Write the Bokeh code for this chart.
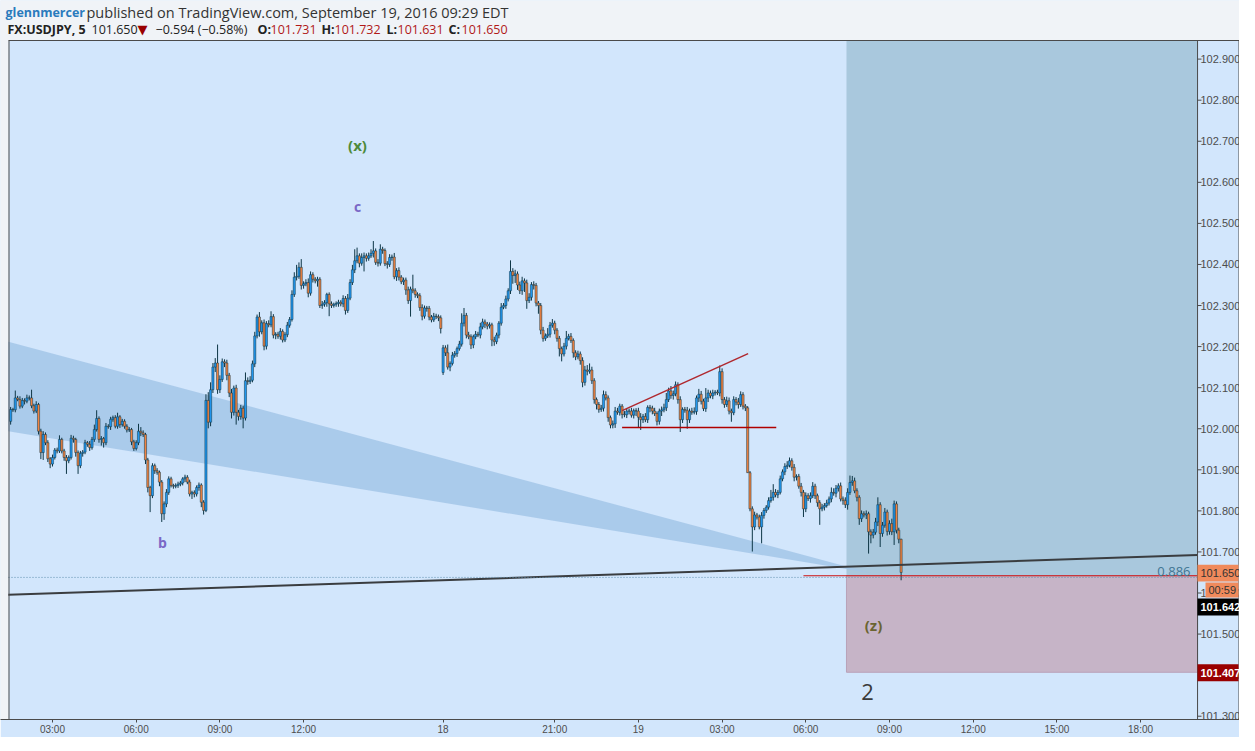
import numpy as np
from bokeh.plotting import figure
from bokeh.models import Range1d, FixedTicker, Label, ColumnDataSource
from bokeh.embed import file_html
from bokeh.resources import INLINE
from bokeh.core.properties import value

# ---------------- data (5-minute USDJPY bars, index 0 = Fri 16 Sep 00:00 EDT) ----------------
FIRST_BAR = 18            # Fri 01:30
# closes, in thousandths of a yen above 101.000
fri_close = [
    1047, 1046, 1075, 1071, 1055, 1069, 1067, 1075, 1075, 1056,
    1043, 1059, 994, 942, 986, 966, 927, 914, 930, 948,
    946, 974, 946, 930, 922, 930, 977, 974, 942, 910,
    940, 943, 966, 962, 954, 974, 998, 1025, 974, 976,
    966, 1006, 1005, 1023, 1027, 1006, 1029, 1010, 1018, 1006,
    997, 998, 968, 952, 966, 994, 990, 986, 924, 857,
    837, 910, 898, 894, 870, 793, 817, 845, 878, 862,
    860, 862, 865, 868, 878, 882, 870, 841, 845, 841,
    857, 863, 821, 801,
    1069, 1016, 1095, 1150, 1160, 1095, 1120, 1163, 1160, 1130,
    1087, 1040, 1099, 1040, 1030, 1050, 1026, 1117, 1115, 1118,
    1158, 1226, 1272, 1236, 1258, 1201, 1256, 1253, 1273, 1228,
    1230, 1225, 1237, 1216, 1229, 1252, 1266, 1327, 1369, 1371,
    1393, 1349, 1353, 1356, 1330, 1375, 1364, 1360, 1364, 1300,
    1303, 1307, 1327, 1304, 1300, 1303, 1305, 1308, 1304, 1317,
    1288, 1318, 1356, 1387, 1409, 1421, 1403, 1417, 1421, 1415,
    1421, 1427, 1433, 1405, 1403, 1437, 1434, 1402, 1400, 1417,
    1418, 1370, 1385, 1369, 1358, 1362, 1338, 1312, 1340, 1336,
    1327, 1324, 1295, 1274, 1294, 1293, 1272, 1265, 1274, 1273,
    1270, 1244,
]
mon_close = [
    1197, 1185, 1150, 1159, 1179, 1183, 1195, 1206, 1257, 1276,
    1228, 1224, 1204, 1224, 1230, 1228, 1248, 1260, 1255, 1250,
    1253, 1216, 1212, 1228, 1257, 1296, 1300, 1316, 1336, 1383,
    1373, 1377, 1350, 1336, 1360, 1355, 1312, 1320, 1351, 1349,
    1306, 1300, 1240, 1220, 1226, 1230, 1252, 1257, 1240, 1220,
    1195, 1182, 1201, 1220, 1225, 1215, 1185, 1175, 1182, 1166,
    1113, 1143, 1140, 1143, 1117, 1071, 1059, 1047, 1050, 1083,
    1075, 1027, 1009, 1012, 1043, 1040, 1055, 1035, 1034, 1043,
    1043, 1033, 1044, 1043, 1028, 1022, 1030, 1022, 1052, 1050,
    1043, 1037, 1018, 1043, 1046, 1051, 1071, 1092, 1081, 1085,
    1107, 1071, 1022, 1047, 1045, 1022, 1043, 1040, 1042, 1075,
    1084, 1067, 1049, 1075, 1087, 1080, 1087, 1089, 1087, 1139,
    1071, 1059, 1068, 1043, 1039, 1071, 1065, 1059, 1083, 1055,
    1051, 893, 805, 761, 790, 785, 761, 789, 801, 809,
    825, 833, 845, 839, 845, 878, 895, 908, 911, 922,
    906, 882, 884, 860, 845, 805, 837, 830, 837, 860,
    837, 820, 805, 809, 813, 819, 829, 845, 843, 855,
    861, 829, 825, 815, 845, 869, 873, 849, 833, 781,
    793, 790, 793, 749, 741, 748, 773, 815, 745, 765,
    797, 750, 769, 749, 817, 753, 731, 650,
]
# upper / lower shadows, thousandths of a yen beyond the body
fri_wick_up = [
    6, 4, 18, 5, 8, 6, 5, 8, 6, 20, 5, 8, 4, 6, 8, 5, 6, 4, 7, 5,
    6, 10, 4, 5, 6, 5, 8, 6, 4, 5, 6, 5, 7, 4, 8, 6, 12, 20, 5, 6,
    4, 8, 5, 6, 5, 6, 10, 4, 6, 5, 5, 6, 4, 5, 6, 18, 10, 6, 4, 5,
    4, 6, 5, 6, 4, 5, 6, 8, 6, 5, 4, 5, 6, 5, 4, 6, 5, 6, 4, 5,
    5, 6, 4, 5, 15, 20, 18, 10, 12, 45,
    10, 8, 6, 8, 6, 10, 6, 8, 6, 8, 6, 20, 8, 10, 8, 10, 6, 12, 6, 8,
    6, 8, 13, 6, 5, 6, 8, 5, 6, 8, 6, 10, 12, 28, 12, 20, 6, 8, 10, 8,
    6, 5, 6, 5, 8, 6, 4, 5, 6, 4, 5, 6, 5, 8, 6, 10, 8, 12, 28, 20,
    6, 10, 8, 6, 8, 10, 24, 6, 8, 12, 6, 5, 6, 8, 6, 10, 6, 8, 5, 6,
    6, 8, 6, 35, 6, 5, 6, 8, 6, 5, 6, 5, 8, 6, 5, 6,
]
fri_wick_dn = [
    8, 5, 6, 4, 6, 5, 8, 5, 6, 6, 6, 5, 8, 16, 18, 6, 8, 10, 6, 5,
    6, 5, 6, 8, 32, 6, 5, 8, 10, 20, 6, 8, 5, 6, 8, 5, 6, 5, 8, 15,
    12, 6, 5, 8, 6, 5, 6, 8, 5, 6, 6, 5, 8, 6, 5, 6, 8, 6, 10, 12,
    40, 6, 8, 6, 10, 20, 15, 8, 6, 5, 6, 5, 6, 5, 6, 8, 5, 6, 12, 8,
    6, 8, 12, 10, 4, 15, 10, 8, 12, 10,
    8, 6, 10, 12, 10, 15, 8, 30, 10, 8, 25, 6, 8, 6, 5, 8, 6, 12, 6, 10,
    8, 6, 6, 8, 10, 6, 8, 6, 5, 6, 6, 5, 6, 8, 6, 10, 8, 6, 10, 6,
    8, 6, 14, 6, 8, 6, 10, 30, 6, 5, 6, 8, 6, 8, 10, 6, 5, 6, 8, 6,
    10, 6, 34, 8, 6, 5, 10, 6, 8, 6, 8, 6, 10, 6, 8, 6, 10, 8, 6, 8,
    12, 8, 39, 6, 8, 6, 8, 10, 6, 8, 8, 6, 5, 6, 8, 12,
]
mon_wick_up = [
    7, 6, 20, 5, 8, 6, 5, 8, 24, 18, 6, 8, 6, 5, 8, 6, 10, 8, 6, 5,
    6, 5, 8, 6, 5, 10, 6, 8, 6, 27, 8, 10, 6, 8, 10, 6, 8, 10, 6, 8,
    6, 5, 6, 8, 6, 15, 8, 10, 6, 5, 6, 5, 8, 18, 6, 8, 5, 6, 8, 6,
    8, 10, 12, 16, 8, 6, 5, 6, 8, 10, 8, 6, 5, 8, 10, 8, 6, 5, 8, 6,
    6, 8, 5, 6, 8, 10, 6, 8, 5, 6, 6, 8, 5, 6, 8, 10, 16, 8, 12, 8,
    8, 6, 8, 5, 6, 8, 6, 8, 10, 6, 13, 8, 6, 24, 8, 6, 8, 5, 6, 15,
    8, 6, 10, 8, 6, 8, 6, 10, 8, 6, 5, 4, 4, 6, 8, 5, 6, 8, 6, 5,
    8, 18, 20, 8, 6, 8, 6, 8, 10, 8, 6, 8, 5, 6, 8, 6, 8, 6, 8, 10,
    6, 5, 6, 8, 6, 8, 6, 12, 10, 8, 6, 8, 6, 8, 10, 17, 12, 8, 6, 5,
    8, 6, 8, 5, 6, 8, 10, 18, 6, 8, 10, 6, 8, 12, 8, 6, 6, 1,
]
mon_wick_dn = [
    6, 8, 6, 10, 5, 6, 8, 5, 6, 8, 8, 6, 10, 8, 6, 5, 8, 6, 10, 8,
    6, 15, 10, 6, 8, 6, 5, 8, 6, 8, 20, 18, 12, 8, 10, 22, 20, 6, 8, 10,
    8, 20, 10, 8, 6, 5, 8, 6, 10, 8, 19, 18, 6, 8, 5, 6, 12, 8, 6, 10,
    12, 8, 10, 6, 8, 10, 12, 8, 6, 8, 6, 10, 8, 8, 10, 6, 8, 10, 6, 8,
    8, 6, 8, 12, 25, 25, 8, 6, 8, 10, 8, 6, 10, 8, 12, 6, 8, 6, 8, 10,
    6, 10, 30, 8, 6, 22, 8, 6, 5, 8, 10, 8, 6, 8, 10, 6, 8, 6, 5, 8,
    10, 8, 6, 8, 22, 6, 8, 10, 6, 8, 8, 0, 6, 60, 8, 6, 6, 40, 8, 6,
    6, 5, 8, 6, 8, 5, 6, 8, 6, 5, 8, 10, 8, 6, 10, 20, 8, 6, 10, 6,
    8, 10, 39, 6, 8, 5, 6, 8, 6, 10, 8, 6, 10, 8, 12, 6, 8, 6, 10, 15,
    8, 6, 10, 53, 20, 8, 6, 10, 33, 8, 6, 10, 8, 8, 32, 8, 10, 19,
]
first_open = 102.018
sunday_open = 102.137

time_ticks = [36, 72, 108, 144, 204, 252, 288, 324, 360, 396, 432, 468, 504]
time_labels = ["03:00", "06:00", "09:00", "12:00", "18", "21:00", "19",
               "03:00", "06:00", "09:00", "12:00", "15:00", "18:00"]
price_ticks = [101.3, 101.4, 101.5, 101.6, 101.7, 101.8, 101.9, 102.0,
               102.1, 102.2, 102.3, 102.4, 102.5, 102.6, 102.7, 102.8, 102.9]

# drawings (bar index, price)
wedge_x = [17.0, 17.0, 387.8]
wedge_y = [102.212, 101.994, 101.649]
ray_x = [17.0, 528.5]
ray_y = [101.5957, 101.6925]
red_trend_x = [281.0, 335.2]
red_trend_y = [102.044, 102.183]
support_x = [281.0, 347.3]
support_y = [102.003, 102.003]
position_left = 377.5
entry_price = 101.642
stop_price = 101.407
fib_left = 359.0
price_line = 101.638
badge_prices = [101.650, 101.642, 101.407]

# ---------------- build OHLC ----------------
close = 101.0 + np.array(fri_close + mon_close) / 1000.0
n = len(close)
idx = np.arange(FIRST_BAR, FIRST_BAR + n)
opn = np.concatenate([[first_open], close[:-1]])
opn[len(fri_close)] = sunday_open
up = np.array(fri_wick_up + mon_wick_up) / 1000.0
dn = np.array(fri_wick_dn + mon_wick_dn) / 1000.0
top = np.maximum(opn, close)
bot = np.minimum(opn, close)
high = top + up
low = bot - dn
BLUE, ORANGE, EDGE = "#2196ee", "#f2823f", "#0e3646"
colors = np.where(close >= opn, BLUE, ORANGE)
src = ColumnDataSource(dict(x=idx, top=top, bot=bot, high=high, low=low, color=colors))

BG = "#d2e6fc"
PAGE = "#f0f3f7"
LINE = "#4a4a4a"

# ---- pixel <-> data helpers (layout only) ----
PXB = 2.325                     # px per bar
XL = 17.08 - 8 / PXB            # bar index at the figure's left edge
XR = XL + 1239 / PXB            # bar index at the figure's right edge
XC = 528.5                      # right edge of the chart pane (x=1197)
CHART_TOP = 102.9453            # price at the top of the chart pane (y=40)
YB = 101.2920                   # price at the bottom of the chart pane (y=719)
PPU = 679 / (CHART_TOP - YB)    # px per yen
YT = CHART_TOP + 40 / PPU       # price at the figure's top edge


def fx(xpix):
    return XL + xpix / PXB


def ref_price(ypix):            # chart pane pixel -> price
    return 102.9 - (ypix - 61.7) / 412.5


def head_price(ypix):           # header pixel -> price
    return YT - ypix / PPU


p = figure(frame_width=1239, frame_height=719, x_range=Range1d(XL, XR), y_range=Range1d(YB, YT),
           y_axis_location=None, x_axis_location="below", output_backend="svg", toolbar_location=None,
           min_border_left=0, min_border_top=0, min_border_right=0, min_border_bottom=16,
           background_fill_color=BG, border_fill_color=BG)
p.grid.visible = False
p.outline_line_color = None

# page-coloured header and left margin
p.quad(left=XL - 1, right=XR + 1, bottom=CHART_TOP, top=YT + 1, fill_color=PAGE, line_color=None)
p.quad(left=XL - 1, right=fx(8), bottom=YB - 1, top=YT + 1, fill_color=PAGE, line_color=None)

# position tool zones
p.quad(left=position_left, right=XC, bottom=entry_price, top=CHART_TOP,
       fill_color="#a9c8dd", line_color=None)
p.quad(left=position_left, right=XC, bottom=stop_price, top=entry_price,
       fill_color="#c6b4c7", line_color="#b9a2b8", line_width=1)
# wedge
p.patch(wedge_x, wedge_y, fill_color="#a3c5e8", fill_alpha=0.85, line_color=None)

# candles
p.segment(x0="x", y0="high", x1="x", y1="low", source=src, line_color=EDGE, line_width=1)
p.vbar(x="x", top="top", bottom="bot", width=0.92, source=src,
       fill_color="color", line_color=EDGE, line_width=0.5)

# drawings
p.line(ray_x, ray_y, line_color="#3a3d40", line_width=2)
p.line(red_trend_x, red_trend_y, line_color="#b0282e", line_width=1.5)
p.line(support_x, support_y, line_color="#b00000", line_width=1.5)
p.line([fib_left, XC], [entry_price, entry_price], line_color="#cc1010", line_width=1)
p.line([fx(8), XC], [price_line, price_line], line_color="#5f8fae", line_width=1, line_dash="1 2")

# pane borders
p.line([fx(8.5), fx(8.5)], [YB - 1, CHART_TOP], line_color=LINE, line_width=1)
p.line([fx(8), XR], [CHART_TOP, CHART_TOP], line_color=LINE, line_width=1)
p.line([XC, XC], [YB - 1, CHART_TOP], line_color=LINE, line_width=1)
p.line([fx(1238.5), fx(1238.5)], [YB - 1, CHART_TOP], line_color=LINE, line_width=1)

# price scale (ticks + labels on the right)
p.segment(x0=XC, x1=fx(1201), y0=price_ticks, y1=price_ticks, line_color=LINE, line_width=1)
p.text(x=fx(1200), y=price_ticks, text=["%.3f" % t for t in price_ticks],
       text_font=value("Liberation Sans"), text_font_size="11px", text_color="#4d4d4d",
       text_align="left", text_baseline="middle")

# time axis
xa = p.xaxis[0]
xa.ticker = FixedTicker(ticks=time_ticks)
xa.major_label_overrides = {t: s for t, s in zip(time_ticks, time_labels)}
xa.major_label_text_font = "Liberation Sans"
xa.major_label_text_font_size = "10px"
xa.major_label_text_color = "#4d4d4d"
xa.major_tick_out = 3
xa.major_tick_in = 0
xa.minor_tick_out = 0
xa.minor_tick_in = 0
xa.major_label_standoff = 1
xa.axis_line_color = LINE
xa.major_tick_line_color = LINE


def label(x, y, text, color, size, bold=False, font="Open Sans", align="left"):
    p.add_layout(Label(x=x, y=y, text=text, text_color=color, text_font=font,
                       text_font_size=size, text_font_style="bold" if bold else "normal",
                       text_align=align, text_baseline="middle"))


# header
label(fx(5), head_price(12), "glennmercer", "#2a7bbd", "12.5px", bold=True)
label(fx(86), head_price(12), "published on TradingView.com, September 19, 2016 09:29 EDT", "#333333", "14.5px")
label(fx(7), head_price(29), "FX:USDJPY, 5", "#222222", "12.5px", bold=True)
label(fx(91), head_price(29), "101.650", "#222222", "12.5px")
label(fx(137), head_price(29), "\u25bc", "#990000", "13px", font="DejaVu Sans")
label(fx(155), head_price(29), "\u22120.594 (\u22120.58%)", "#222222", "12.5px")
for xr, lab, val in [(257, "O:", "101.731"), (321, "H:", "101.732"),
                     (386, "L:", "101.631"), (448, "C:", "101.650")]:
    label(fx(xr), head_price(29), lab, "#222222", "12.5px", bold=True)
    label(fx(xr + (13 if lab != "L:" else 11)), head_price(29), val, "#b01818", "12.5px")

# wave labels and fib level
label(fx(357), ref_price(148), "(x)", "#4e8a3a", "15px", bold=True, align="center")
label(fx(357), ref_price(210), "c", "#7a68c6", "14px", bold=True, align="center")
label(fx(162), ref_price(547), "b", "#7a68c6", "14px", bold=True, align="center")
label(fx(873), ref_price(630), "(z)", "#6b6432", "15px", bold=True, align="center")
label(fx(867), ref_price(697), "2", "#3a3a3a", "22px", align="center")
label(fx(1190), ref_price(576), "0.886", "#3f7592", "13px", align="right")

# price badges on the scale
badges = [  # (x0 px, y top px, y bottom px, text, background, text colour, bold)
    (1197, 569.5, 586.5, "%.3f" % badge_prices[0], "#f08a5c", "#333333", False),
    (1205, 587.5, 602.5, "00:59", "#f08a5c", "#333333", False),
    (1197, 603.5, 620.5, "%.3f" % badge_prices[1], "#000000", "#ffffff", True),
    (1197, 669.5, 686.5, "%.3f" % badge_prices[2], "#990000", "#ffffff", True),
]
for x0, yt, yb, txt, bg, fg, bold in badges:
    p.quad(left=fx(x0), right=fx(1238), top=ref_price(yt), bottom=ref_price(yb),
           fill_color=bg, line_color=None)
    p.text(x=[fx(x0 + 3)], y=[ref_price((yt + yb) / 2)], text=[txt],
           text_font=value("Liberation Sans"), text_font_size="11px", text_color=fg,
           text_font_style="bold" if bold else "normal", text_align="left", text_baseline="middle")

open("out.html", "w").write(file_html(p, INLINE))
